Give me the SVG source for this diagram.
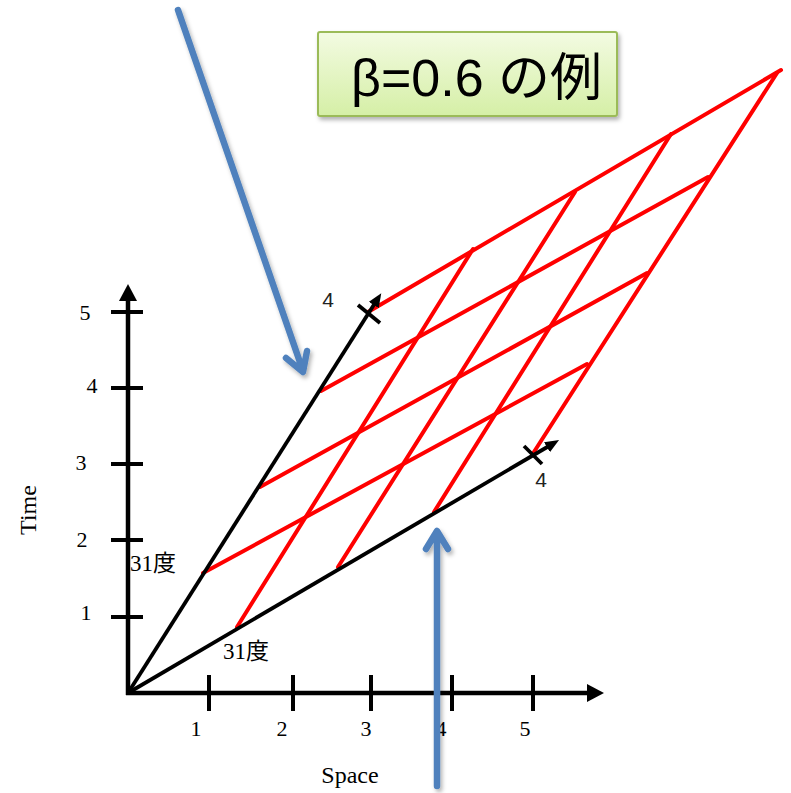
<svg xmlns="http://www.w3.org/2000/svg" width="791" height="793" viewBox="0 0 791 793">
<style>
.ax{stroke:#000;stroke-width:4.5;fill:none}
.sk{stroke:#000;stroke-width:3.8;fill:none}
.tk{stroke:#000;stroke-width:4;fill:none}
.red{stroke:#ff0000;stroke-width:4;fill:none;stroke-linecap:round}
.blue{stroke:#4f81bd;stroke-width:6.5;fill:none;stroke-linecap:round;stroke-linejoin:round}
.num{font-family:"Liberation Serif","DejaVu Serif",serif;font-size:22px;fill:#000;text-anchor:middle}
.lab{font-family:"Liberation Serif","DejaVu Serif",serif;font-size:24px;fill:#000;text-anchor:middle}
.deg{font-family:"Liberation Serif","Noto Sans CJK JP",serif;font-size:23px;fill:#000}
.four{font-family:"Liberation Sans","DejaVu Sans",sans-serif;font-size:21px;fill:#222;text-anchor:middle}
.title{font-family:"Liberation Sans","Noto Sans CJK JP",sans-serif;font-size:52px;fill:#000}
</style>
<defs>
<linearGradient id="g" x1="0" y1="0" x2="0" y2="1">
<stop offset="0" stop-color="#f3fbe2"/>
<stop offset="1" stop-color="#d5efa6"/>
</linearGradient>
<filter id="sh" x="-20%" y="-20%" width="140%" height="140%">
<feDropShadow dx="2" dy="3" stdDeviation="2" flood-color="#000" flood-opacity="0.3"/>
</filter>
<marker id="ah" viewBox="0 0 12 10" refX="2" refY="5" markerWidth="14" markerHeight="12" markerUnits="userSpaceOnUse" orient="auto">
<path d="M0,0 L12,5 L0,10 Z" fill="#000"/>
</marker>
</defs>
<rect width="791" height="793" fill="#fff"/>

<g id="title">
<rect x="318" y="32" width="299" height="84" rx="2" fill="url(#g)" stroke="#9bbb59" stroke-width="2" filter="url(#sh)"/>
<text class="title" x="351" y="96">β=0.6 の例</text>
</g>

<g id="grid">
<line class="red" x1="203" y1="573" x2="587" y2="364"/>
<line class="red" x1="260" y1="487" x2="647" y2="273"/>
<line class="red" x1="321" y1="391" x2="708" y2="177"/>
<line class="red" x1="368" y1="312" x2="781" y2="70"/>
<line class="red" x1="237" y1="627" x2="473" y2="249"/>
<line class="red" x1="338" y1="567" x2="575" y2="192"/>
<line class="red" x1="434" y1="512" x2="671" y2="134"/>
<line class="red" x1="532" y1="455" x2="777" y2="73"/>
</g>

<g id="axes">
<line class="ax" x1="128" y1="695" x2="128" y2="298"/>
<path d="M128,284 L119,301 L137,301 Z" fill="#000"/>
<line class="ax" x1="126" y1="693" x2="590" y2="693"/>
<path d="M604,693 L587,684 L587,702 Z" fill="#000"/>
<line class="tk" x1="111" y1="312" x2="143" y2="312"/>
<line class="tk" x1="111" y1="388" x2="143" y2="388"/>
<line class="tk" x1="111" y1="464" x2="143" y2="464"/>
<line class="tk" x1="111" y1="540" x2="143" y2="540"/>
<line class="tk" x1="111" y1="617" x2="143" y2="617"/>
<line class="tk" x1="209" y1="675" x2="209" y2="711"/>
<line class="tk" x1="293" y1="675" x2="293" y2="711"/>
<line class="tk" x1="371" y1="675" x2="371" y2="711"/>
<line class="tk" x1="452" y1="675" x2="452" y2="711"/>
<line class="tk" x1="533" y1="675" x2="533" y2="711"/>
</g>

<g id="skewed-axes">
<line class="sk" x1="128" y1="693" x2="375" y2="303" marker-end="url(#ah)"/>
<line class="sk" x1="358" y1="305" x2="380" y2="323"/>
<line class="sk" x1="128" y1="693" x2="549" y2="446" marker-end="url(#ah)"/>
<line class="sk" x1="524" y1="446" x2="542" y2="464"/>
</g>

<g id="labels">
<text class="num" x="85" y="320">5</text>
<text class="num" x="92" y="393">4</text>
<text class="num" x="81" y="470">3</text>
<text class="num" x="82" y="547">2</text>
<text class="num" x="86" y="620">1</text>
<text class="num" x="196" y="736">1</text>
<text class="num" x="282" y="736">2</text>
<text class="num" x="366" y="736">3</text>
<text class="num" x="441" y="736">4</text>
<text class="num" x="525" y="736">5</text>
<text class="lab" x="350" y="783">Space</text>
<text class="lab" x="0" y="0" transform="translate(36,510) rotate(-90)">Time</text>
<text class="deg" x="130" y="571">31度</text>
<text class="deg" x="223" y="659">31度</text>
<text class="four" x="328" y="307">4</text>
<text class="four" x="541" y="487">4</text>
</g>

<g id="arrows" filter="url(#sh)">
<path class="blue" d="M178,10 L303,371 M286,358 L303,372 L307,351"/>
<path class="blue" d="M437,786 L437,532 M426,549 L437,531 L448,549"/>
</g>
</svg>
